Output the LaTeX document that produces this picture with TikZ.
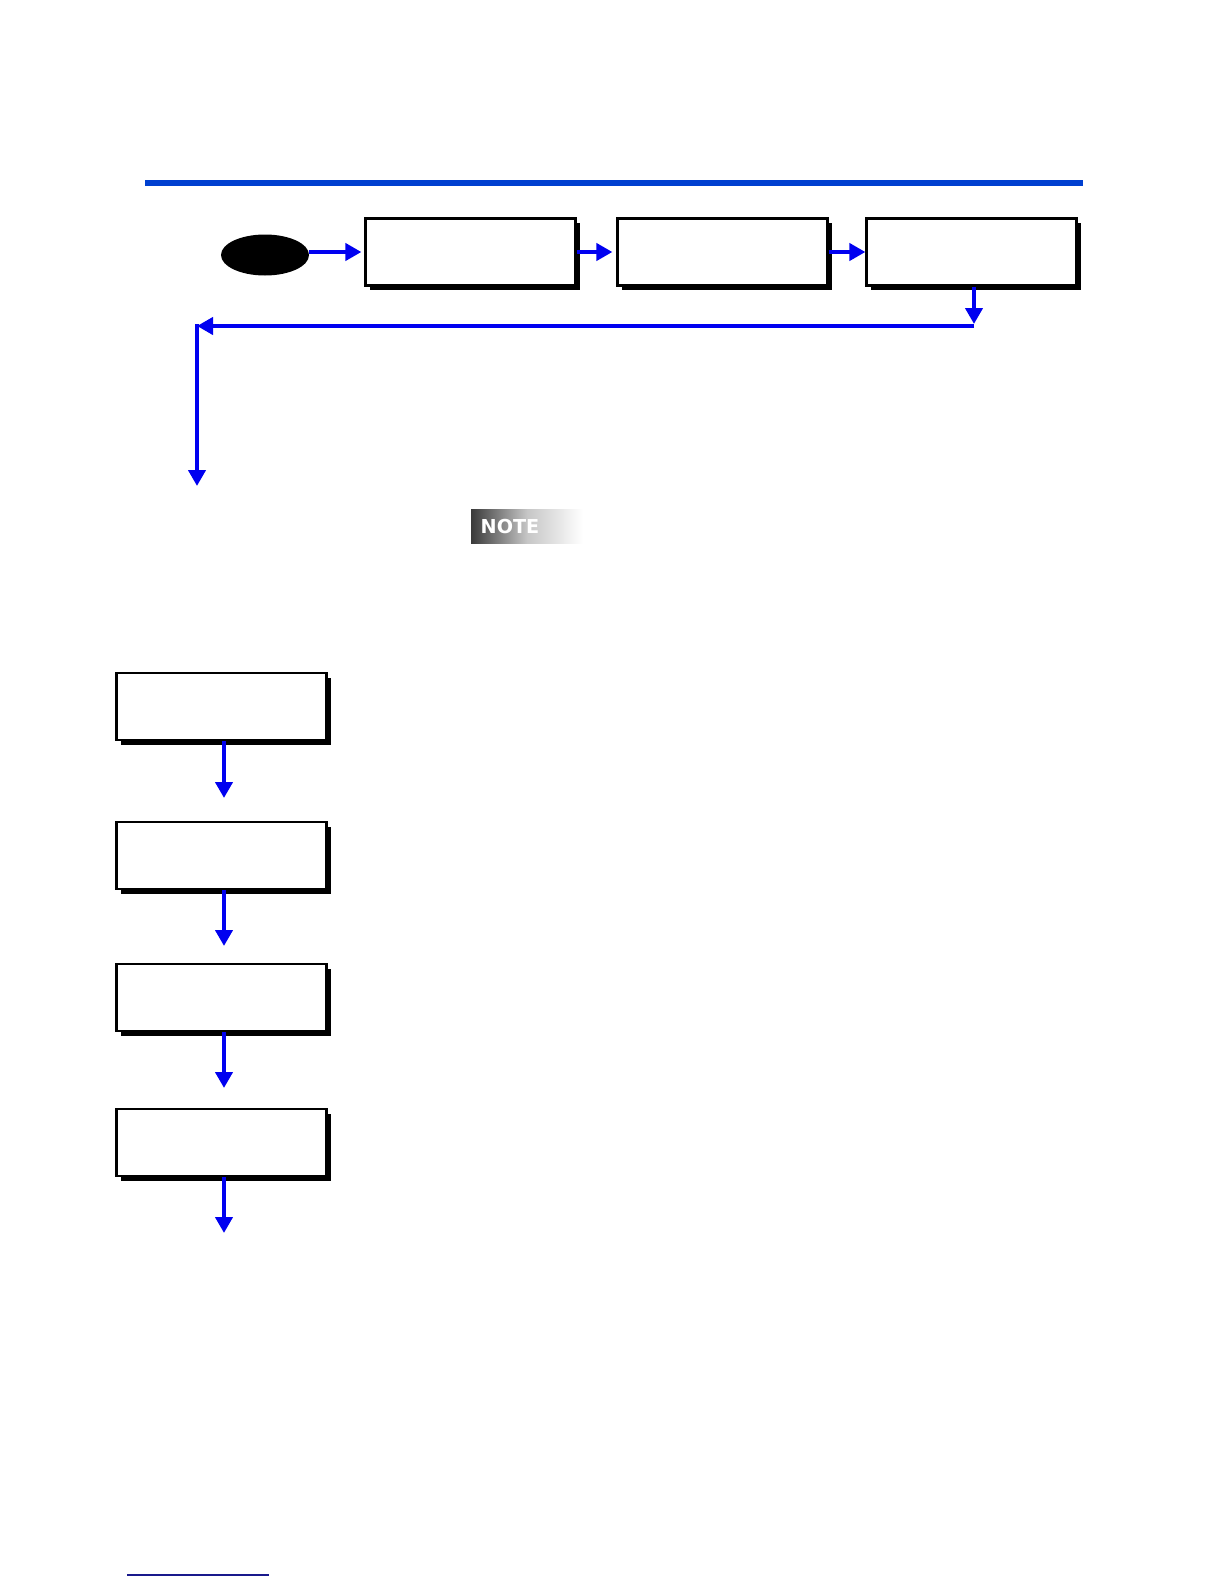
\documentclass[tikz,border=0pt]{standalone}
\usepackage{fontspec}
\usetikzlibrary{arrows.meta,shadows,shapes.geometric}
\definecolor{rulebl}{RGB}{0,64,208}
\definecolor{arrbl}{RGB}{0,0,240}
\definecolor{navy}{RGB}{25,25,140}
\definecolor{notedark}{RGB}{58,58,58}
\newfontfamily\notefont{DejaVu Sans}
\tikzset{
  boxnode/.style={draw=black, line width=1.1pt, fill=white, inner sep=0pt,
    minimum width=105pt, minimum height=33.5pt,
    general shadow={fill=black, shadow xshift=2.2pt, shadow yshift=-2.3pt}},
  startnode/.style={ellipse, fill=black, inner sep=0pt, minimum width=44pt, minimum height=20.5pt},
  arr/.style={draw=arrbl, line width=2pt, -{Triangle[length=8pt,width=8.5pt]}}
}
\begin{document}
\begin{tikzpicture}[x=0.5pt,y=-0.5pt]
\useasboundingbox (0,0) rectangle (1224,1584);
% top rule
\draw[rulebl, line width=3pt] (145,183) -- (1083,183);
% top row
\node[startnode] (st) at (265,255) {};
\node[boxnode] (b1) at (470.5,252) {};
\node[boxnode] (b2) at (722.5,252) {};
\node[boxnode] (b3) at (971.5,252) {};
\draw[arr, shorten >=1.5pt] (st.east |- b1.west) -- (b1.west);
\draw[arr, shorten >=2pt] (b1.east) -- (b2.west);
\draw[arr] (b2.east) -- (b3.west);
\coordinate (c1) at (974,326);
\coordinate (c2) at (197,326);
\coordinate (c3) at (197,486);
\draw[arr, shorten >=1pt] (b3.south -| c1) -- (c1);
\draw[arr] (c1) -- (c2);
\draw[arr] ([yshift=1pt]c2) -- (c3);
% NOTE badge
\shade[left color=notedark, right color=white, middle color=gray!45]
  (471,509) rectangle (583,543);
\node[text=white, font=\notefont\bfseries\fontsize{9.6pt}{11pt}\selectfont, inner sep=0pt]
  (note) at (510,526.5) {NOTE};
% left column
\node[boxnode] (l1) at (221.5,706.5) {};
\node[boxnode] (l2) at (221.5,855.5) {};
\node[boxnode] (l3) at (221.5,997.5) {};
\node[boxnode] (l4) at (221.5,1142.5) {};
\coordinate (d1) at (224,798);
\coordinate (d2) at (224,946);
\coordinate (d3) at (224,1088);
\coordinate (d4) at (224,1233);
\draw[arr] (l1.south -| d1) -- (d1);
\draw[arr] (l2.south -| d2) -- (d2);
\draw[arr] (l3.south -| d3) -- (d3);
\draw[arr] (l4.south -| d4) -- (d4);
% bottom footer rule
\draw[navy, line width=0.6pt] (127,1575) -- (269,1575);
\end{tikzpicture}
\end{document}
